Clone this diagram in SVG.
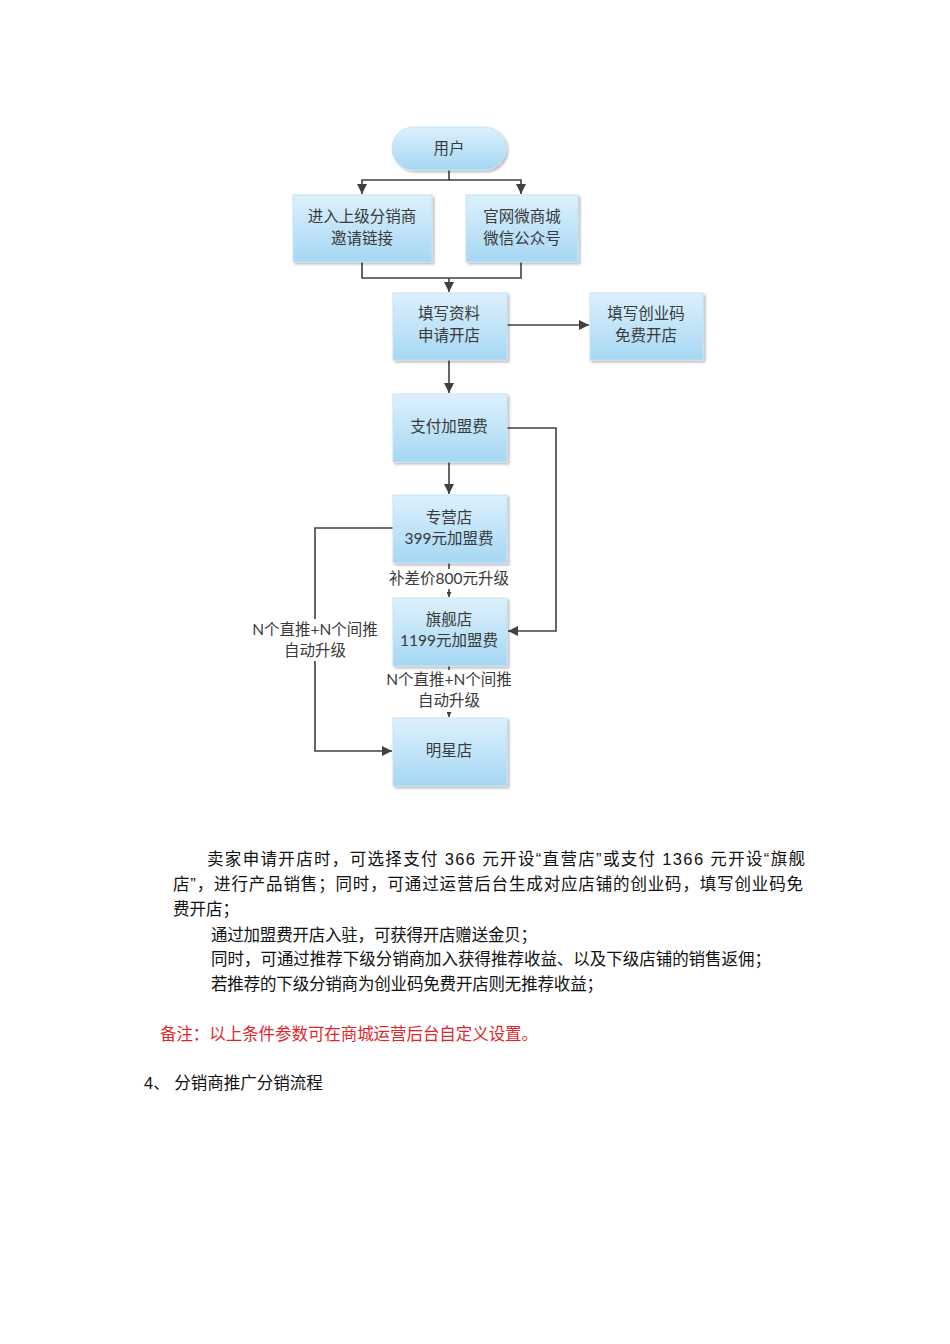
<svg xmlns="http://www.w3.org/2000/svg" width="950" height="1344" viewBox="0 0 950 1344">
<defs>
<linearGradient id="g" x1="0" y1="0" x2="0" y2="1">
<stop offset="0" stop-color="#dcf1fc"/>
<stop offset="1" stop-color="#a6d7f4"/>
</linearGradient>
<filter id="sh" x="-10%" y="-10%" width="130%" height="130%">
<feDropShadow dx="2" dy="2" stdDeviation="1.2" flood-color="#000" flood-opacity="0.25"/>
</filter>
<marker id="ah" viewBox="0 0 10 10" refX="10" refY="5" markerWidth="10" markerHeight="10" markerUnits="userSpaceOnUse" orient="auto">
<path d="M0,0 L10,5 L0,10 z" fill="#404040"/>
</marker>
<marker id="ahs" viewBox="0 0 10 10" refX="10" refY="5" markerWidth="5" markerHeight="5" markerUnits="userSpaceOnUse" orient="auto">
<path d="M0,0 L10,5 L0,10 z" fill="#404040"/>
</marker>
</defs>
<style>
.box{fill:url(#g);stroke:#c4e2f5;stroke-width:1;filter:url(#sh)}
.t{font-family:Lato,"Noto Sans CJK SC",sans-serif;font-size:15.5px;fill:#3a3a3a;text-anchor:middle}
.ln{fill:none;stroke:#404040;stroke-width:1.6}
.lbl{fill:#fff}
.p{font-family:"Liberation Sans","Noto Sans CJK SC",sans-serif;font-size:16.5px;fill:#111}
.r{fill:#e0262b}
</style>
<rect width="950" height="1344" fill="#fff"/>

<g id="connectors">
<path class="ln" d="M449,170 V180 H362 V194" marker-end="url(#ah)"/>
<path class="ln" d="M449,180 H521 V194" marker-end="url(#ah)"/>
<path class="ln" d="M362,262 V278 H521 V262"/>
<path class="ln" d="M449,278 V292" marker-end="url(#ah)"/>
<path class="ln" d="M507,325 H589" marker-end="url(#ah)"/>
<path class="ln" d="M449,360 V393" marker-end="url(#ah)"/>
<path class="ln" d="M507,428 H556 V631 H508" marker-end="url(#ah)"/>
<path class="ln" d="M449,462 V494" marker-end="url(#ah)"/>
<path class="ln" d="M449,563 V597" marker-end="url(#ahs)"/>
<path class="ln" d="M449,666 V717" marker-end="url(#ahs)"/>
<path class="ln" d="M393,528 H315 V751 H392" marker-end="url(#ah)"/>
<rect class="lbl" x="387" y="569" width="124" height="20"/>
<text class="t" x="449" y="584">补差价800元升级</text>
<rect class="lbl" x="385" y="670" width="128" height="42"/>
<text class="t" x="449" y="685">N个直推+N个间推</text>
<text class="t" x="449" y="706">自动升级</text>
<rect class="lbl" x="250" y="619" width="130" height="42"/>
<text class="t" x="315" y="635">N个直推+N个间推</text>
<text class="t" x="315" y="656">自动升级</text>
</g>

<g id="user"><rect class="box" x="392" y="127" width="114" height="43" rx="21.5"/><text class="t" x="449" y="154">用户</text></g>
<g id="invite"><rect class="box" x="293" y="195" width="139" height="67"/><text class="t" x="362" y="222">进入上级分销商</text><text class="t" x="362" y="244">邀请链接</text></g>
<g id="official"><rect class="box" x="466" y="195" width="112" height="67"/><text class="t" x="522" y="222">官网微商城</text><text class="t" x="522" y="244">微信公众号</text></g>
<g id="apply"><rect class="box" x="393" y="293" width="114" height="67"/><text class="t" x="449" y="319">填写资料</text><text class="t" x="449" y="341">申请开店</text></g>
<g id="code"><rect class="box" x="590" y="293" width="113" height="67"/><text class="t" x="646" y="319">填写创业码</text><text class="t" x="646" y="341">免费开店</text></g>
<g id="pay"><rect class="box" x="393" y="394" width="114" height="68"/><text class="t" x="449" y="432">支付加盟费</text></g>
<g id="special"><rect class="box" x="393" y="495" width="114" height="68"/><text class="t" x="449" y="523">专营店</text><text class="t" x="449" y="544">399元加盟费</text></g>
<g id="flagship"><rect class="box" x="393" y="598" width="114" height="68"/><text class="t" x="449" y="625">旗舰店</text><text class="t" x="449" y="646">1199元加盟费</text></g>
<g id="star"><rect class="box" x="393" y="718" width="114" height="68"/><text class="t" x="449" y="756">明星店</text></g>

<text class="p" x="207" y="865" textLength="598" lengthAdjust="spacing">卖家申请开店时，可选择支付 366 元开设“直营店”或支付 1366 元开设“旗舰</text>
<text class="p" x="173" y="890" textLength="630" lengthAdjust="spacing">店”，进行产品销售；同时，可通过运营后台生成对应店铺的创业码，填写创业码免</text>
<text class="p" x="173" y="915">费开店；</text>
<text class="p" x="211" y="941" textLength="326" lengthAdjust="spacing">通过加盟费开店入驻，可获得开店赠送金贝；</text>
<text class="p" x="211" y="965" textLength="560" lengthAdjust="spacing">同时，可通过推荐下级分销商加入获得推荐收益、以及下级店铺的销售返佣；</text>
<text class="p" x="211" y="990" textLength="392" lengthAdjust="spacing">若推荐的下级分销商为创业码免费开店则无推荐收益；</text>
<text class="p r" x="160" y="1040" textLength="378" lengthAdjust="spacing">备注：以上条件参数可在商城运营后台自定义设置。</text>
<text class="p" x="144" y="1089">4、 分销商推广分销流程</text>
</svg>
